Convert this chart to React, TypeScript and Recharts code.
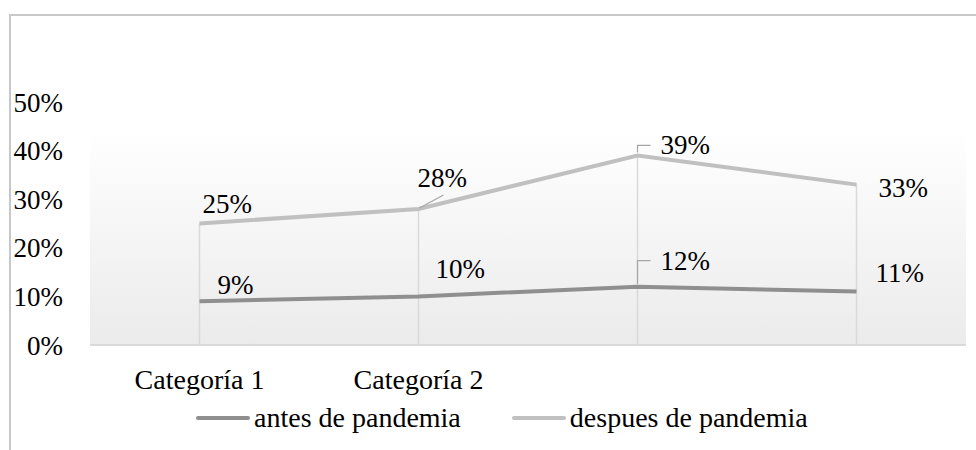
import { LineChart, Line, XAxis, YAxis, CartesianGrid, ReferenceLine, LabelList, Legend } from "recharts";

const categories = ["Categoría 1", "Categoría 2", "", ""];
const antes = [0.09, 0.1, 0.12, 0.11];
const despues = [0.25, 0.28, 0.39, 0.33];
const yTicks = [0, 0.1, 0.2, 0.3, 0.4, 0.5];
const seriesNames = ["antes de pandemia", "despues de pandemia"];

const data = categories.map((cat, i) => ({
  key: `c${i}`,
  cat,
  antes: antes[i],
  despues: despues[i],
}));

const FONT = "'Liberation Serif', 'Times New Roman', serif";
const FS = 27;
const C_ANTES = "#8f8f8f";
const C_DESPUES = "#c0c0c0";

// label placement per point: dx/dy of text left/center from the point, leader style
const antesLabelPos = [
  { dx: 18, dy: -16, leader: "" },
  { dx: 17, dy: -27, leader: "" },
  { dx: 23, dy: -26, leader: "bracket" },
  { dx: 19, dy: -19, leader: "" },
];
const despuesLabelPos = [
  { dx: 3, dy: -20, leader: "" },
  { dx: -1, dy: -31, leader: "diag" },
  { dx: 23, dy: -10, leader: "bracket" },
  { dx: 22, dy: 3, leader: "" },
];

const pct = (v: number) => `${Math.round(v * 100)}%`;

function makeLabel(pos: typeof antesLabelPos) {
  return (props: any) => {
    const { x, y, value, index } = props;
    const p = pos[index];
    const ty = y + p.dy;
    return (
      <g>
        {p.leader === "bracket" && (
          <polyline
            points={`${x},${y - 3} ${x},${ty} ${x + 13},${ty}`}
            fill="none"
            stroke="#a6a6a6"
            strokeWidth={1.2}
          />
        )}
        {p.leader === "diag" && (
          <line x1={x + 1} y1={y - 1} x2={x + 25} y2={y - 14} stroke="#a6a6a6" strokeWidth={1.2} />
        )}
        <text
          x={x + p.dx}
          y={ty}
          dominantBaseline="central"
          fontFamily={FONT}
          fontSize={FS}
          fill="#000"
        >
          {pct(value)}
        </text>
      </g>
    );
  };
}

const LegendContent = () => (
  <div style={{ display: "flex", alignItems: "center", fontFamily: FONT, fontSize: 28, color: "#000" }}>
    {seriesNames.map((name, i) => (
      <div key={name} style={{ display: "flex", alignItems: "center", marginRight: i === 0 ? 51 : 0 }}>
        <div style={{ width: 54, height: 4, background: i === 0 ? C_ANTES : C_DESPUES, marginRight: 4, borderRadius: 2 }} />
        <span style={{ lineHeight: "30px" }}>{name}</span>
      </div>
    ))}
  </div>
);

export default function App() {
  return (
    <div style={{ position: "absolute", left: 0, top: 0, width: 976, height: 450, overflow: "hidden", background: "#fff" }}>
      <div
        style={{
          position: "absolute",
          left: 9,
          top: 14,
          width: 1100,
          height: 600,
          border: "2px solid #c8c8c8",
        }}
      />
      <div style={{ position: "absolute", left: 0, top: 0 }}>
        <LineChart width={976} height={450} data={data} margin={{ top: 102, right: 10, bottom: 75, left: 0 }}>
          <defs>
            <linearGradient id="bg" x1="0" y1="0" x2="0" y2="1">
              <stop offset="0" stopColor="#ffffff" />
              <stop offset="0.11" stopColor="#ffffff" />
              <stop offset="1" stopColor="#ebebeb" />
            </linearGradient>
          </defs>
          <CartesianGrid horizontal={false} vertical={false} fill="url(#bg)" stroke="none" />
          <XAxis
            dataKey="key"
            tickFormatter={(_: any, i: number) => categories[i]}
            padding={{ left: 109.5, right: 109.5 }}
            axisLine={{ stroke: "#d9d9d9", strokeWidth: 2 }}
            tickLine={false}
            tickMargin={18}
            interval={0}
            tick={{ fontFamily: FONT, fontSize: 28, fill: "#000" }}
          />
          <YAxis
            domain={[0, 0.5]}
            ticks={yTicks}
            tickFormatter={pct}
            width={90}
            axisLine={false}
            tickLine={false}
            tickMargin={21}
            tick={{ fontFamily: FONT, fontSize: FS, fill: "#000" }}
          />
          {data.map((d) => (
            <ReferenceLine
              key={d.key}
              segment={[
                { x: d.key, y: 0 },
                { x: d.key, y: d.despues },
              ]}
              stroke="#d9d9d9"
              strokeWidth={1.5}
            />
          ))}
          <Line
            dataKey="antes"
            name={seriesNames[0]}
            stroke={C_ANTES}
            strokeWidth={4}
            dot={false}
            activeDot={false}
            isAnimationActive={false}
          >
            <LabelList dataKey="antes" content={makeLabel(antesLabelPos)} />
          </Line>
          <Line
            dataKey="despues"
            name={seriesNames[1]}
            stroke={C_DESPUES}
            strokeWidth={4}
            dot={false}
            activeDot={false}
            isAnimationActive={false}
          >
            <LabelList dataKey="despues" content={makeLabel(despuesLabelPos)} />
          </Line>
          <Legend
            layout="horizontal"
            verticalAlign="middle"
            align="center"
            wrapperStyle={{ top: 403, left: 196, width: 700, height: 0, overflow: "visible" }}
            content={<LegendContent />}
          />
        </LineChart>
      </div>
    </div>
  );
}
